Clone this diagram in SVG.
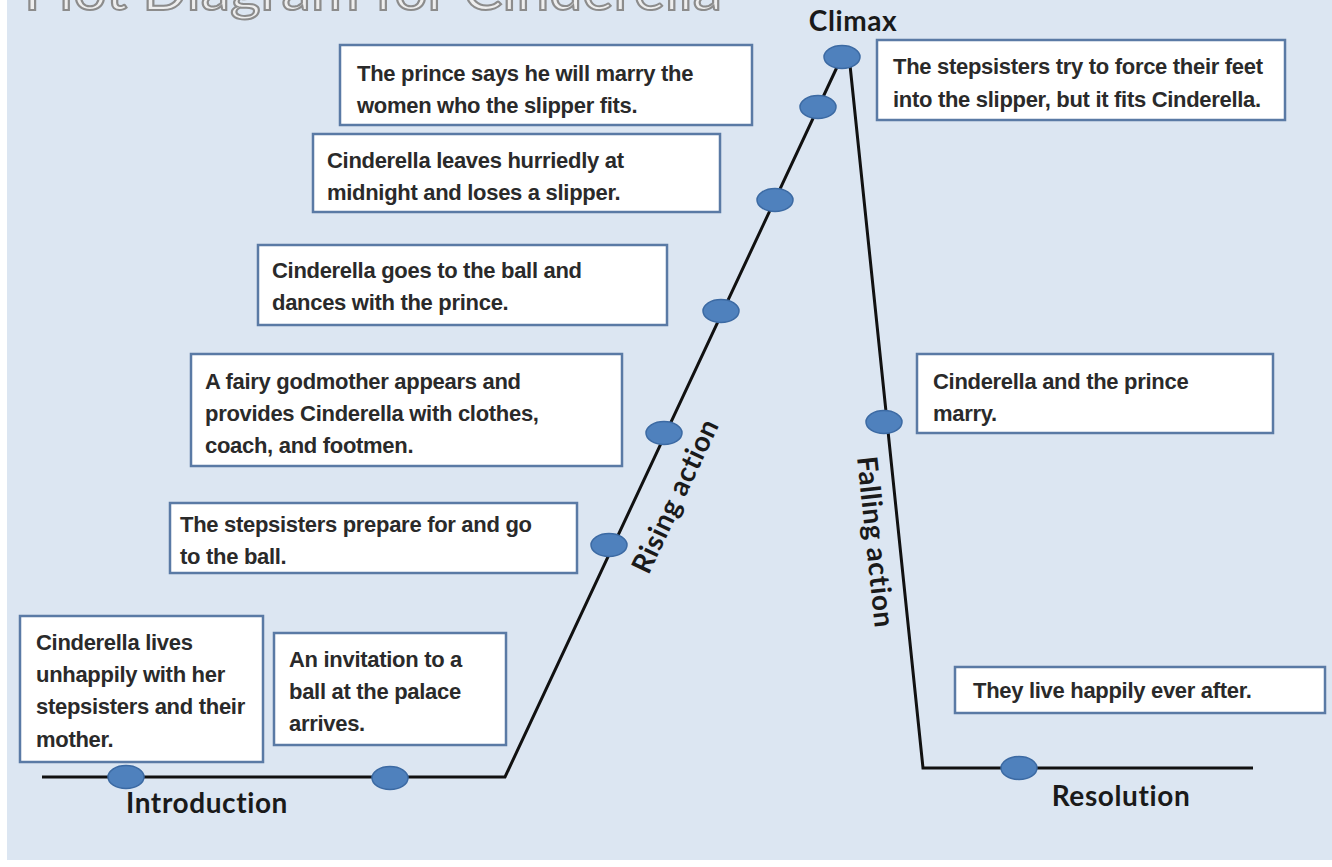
<svg xmlns="http://www.w3.org/2000/svg" width="1332" height="867" viewBox="0 0 1332 867">
<style>
.box{fill:#ffffff;stroke:#5a7aa5;stroke-width:2.5}
.t{font-family:"Liberation Sans",Arial,sans-serif;font-weight:bold;font-size:22px;fill:#2a2a2a;letter-spacing:-0.3px}
.lab{font-family:Lato,"Open Sans",sans-serif;font-weight:bold;fill:#1a1a1a;font-size:28px;letter-spacing:0.6px}
.dot{fill:#4f81bd;stroke:#3c6aa3;stroke-width:1.5}
.ln{fill:none;stroke:#111;stroke-width:3}
</style>
<rect x="0" y="0" width="1332" height="867" fill="#ffffff"/>
<rect x="7" y="0" width="1325" height="860" fill="#dce6f2"/>
<text x="24" y="10" font-family="Lato,'Open Sans',sans-serif" font-size="54" fill="#eeeeee" stroke="#8c8c8c" stroke-width="2" textLength="698" lengthAdjust="spacingAndGlyphs">Plot Diagram for Cinderella</text>

<g id="connectors">
<polyline class="ln" points="42,777 505,777 838,65"/>
<polyline class="ln" points="850,65 923,768 1253,768"/>
</g>

<g id="dots">
<ellipse class="dot" cx="126" cy="777" rx="18" ry="11.5"/>
<ellipse class="dot" cx="390" cy="778" rx="18" ry="11.5"/>
<ellipse class="dot" cx="609" cy="545" rx="18" ry="11.5"/>
<ellipse class="dot" cx="664" cy="433" rx="18" ry="11.5"/>
<ellipse class="dot" cx="721" cy="311" rx="18" ry="11.5"/>
<ellipse class="dot" cx="775" cy="200" rx="18" ry="11.5"/>
<ellipse class="dot" cx="818" cy="107" rx="18" ry="11.5"/>
<ellipse class="dot" cx="842" cy="57" rx="18" ry="11.5"/>
<ellipse class="dot" cx="884" cy="422" rx="18" ry="11.5"/>
<ellipse class="dot" cx="1019" cy="768" rx="18" ry="11.5"/>
</g>

<g id="n-prince-says">
<rect class="box" x="340" y="45" width="412" height="80"/>
<text class="t" x="357" y="81">The prince says he will marry the</text>
<text class="t" x="357" y="113">women who the slipper fits.</text>
</g>
<g id="n-leaves">
<rect class="box" x="313" y="134" width="407" height="78"/>
<text class="t" x="327" y="168">Cinderella leaves hurriedly at</text>
<text class="t" x="327" y="200">midnight and loses a slipper.</text>
</g>
<g id="n-goes">
<rect class="box" x="258" y="245" width="409" height="80"/>
<text class="t" x="272" y="278">Cinderella goes to the ball and</text>
<text class="t" x="272" y="310">dances with the prince.</text>
</g>
<g id="n-fairy">
<rect class="box" x="191" y="354" width="431" height="112"/>
<text class="t" x="205" y="389">A fairy godmother appears and</text>
<text class="t" x="205" y="421">provides Cinderella with clothes,</text>
<text class="t" x="205" y="453">coach, and footmen.</text>
</g>
<g id="n-stepsisters-prepare">
<rect class="box" x="170" y="503" width="407" height="70"/>
<text class="t" x="180" y="532">The stepsisters prepare for and go</text>
<text class="t" x="180" y="564">to the ball.</text>
</g>
<g id="n-lives">
<rect class="box" x="20" y="616" width="243" height="146"/>
<text class="t" x="36" y="650">Cinderella lives</text>
<text class="t" x="36" y="682">unhappily with her</text>
<text class="t" x="36" y="714">stepsisters and their</text>
<text class="t" x="36" y="747">mother.</text>
</g>
<g id="n-invitation">
<rect class="box" x="274" y="633" width="232" height="112"/>
<text class="t" x="289" y="667">An invitation to a</text>
<text class="t" x="289" y="699">ball at the palace</text>
<text class="t" x="289" y="731">arrives.</text>
</g>
<g id="n-stepsisters-try">
<rect class="box" x="877" y="40" width="408" height="80"/>
<text class="t" x="893" y="74">The stepsisters try to force their feet</text>
<text class="t" x="893" y="107">into the slipper, but it fits Cinderella.</text>
</g>
<g id="n-marry">
<rect class="box" x="917" y="354" width="356" height="79"/>
<text class="t" x="933" y="389">Cinderella and the prince</text>
<text class="t" x="933" y="421">marry.</text>
</g>
<g id="n-happily">
<rect class="box" x="955" y="667" width="370" height="46"/>
<text class="t" x="973" y="698">They live happily ever after.</text>
</g>

<g id="labels">
<text class="lab" x="853" y="31" font-size="26" text-anchor="middle">Climax</text>
<text class="lab" x="207" y="813" text-anchor="middle">Introduction</text>
<text class="lab" x="1121" y="806" text-anchor="middle">Resolution</text>
<text class="lab" text-anchor="middle" transform="translate(684,500) rotate(-64.8)">Rising action</text>
<text class="lab" text-anchor="middle" transform="translate(866,543) rotate(84)">Falling action</text>
</g>
</svg>
